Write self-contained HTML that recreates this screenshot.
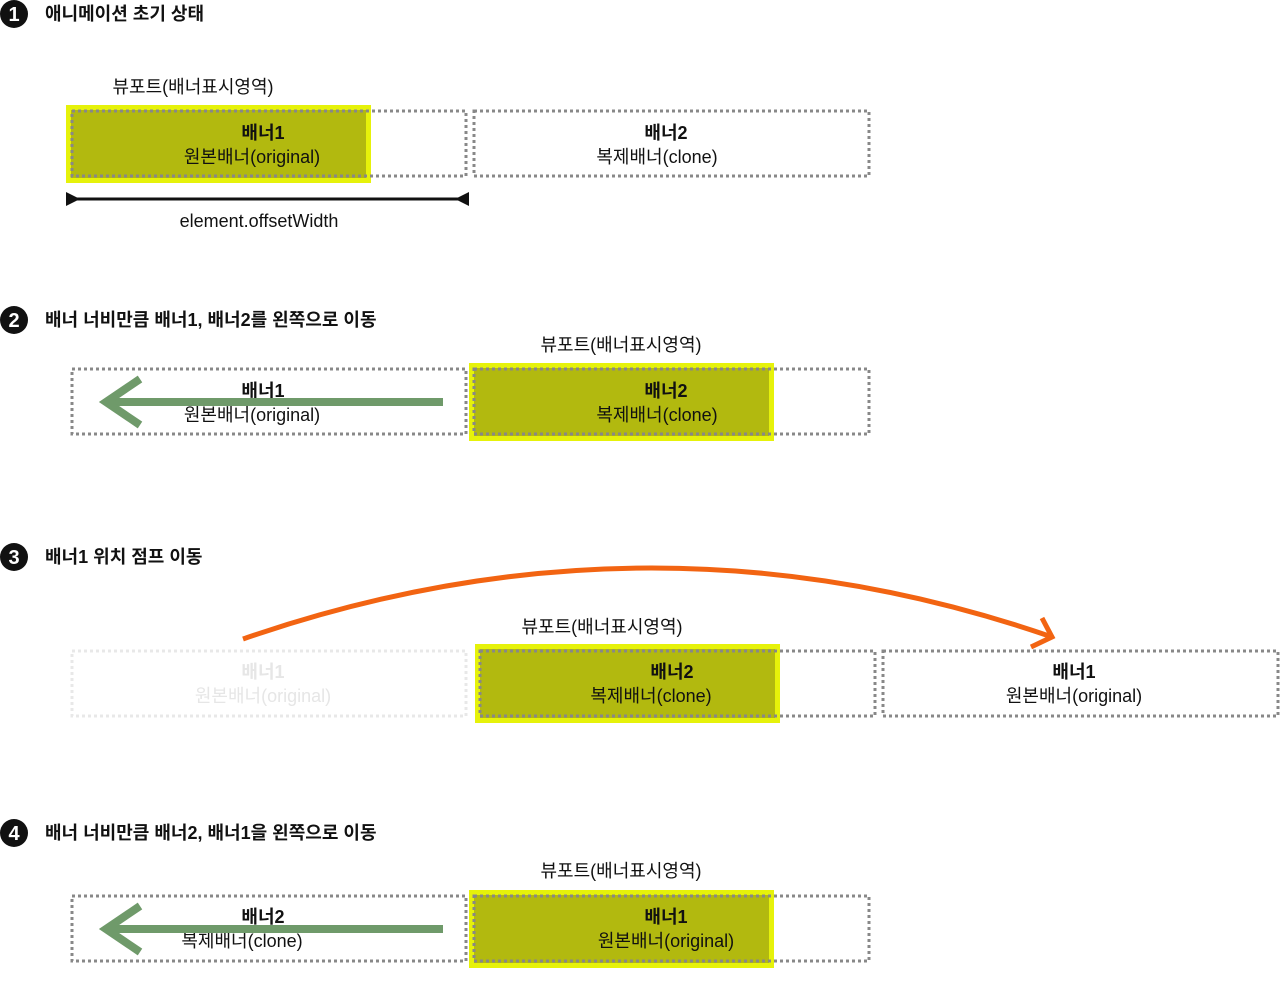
<!DOCTYPE html>
<html><head><meta charset="utf-8"><style>
html,body{margin:0;padding:0;background:#fff;}
svg text{font-family:"Liberation Sans","Noto Sans CJK KR",sans-serif;}
</style></head><body>
<svg width="1280" height="997" viewBox="0 0 1280 997" xmlns="http://www.w3.org/2000/svg">
<defs>
<style>
.d{fill:none;stroke:#888;stroke-width:3;stroke-dasharray:3 3}
.df{fill:none;stroke:#e8e8e8;stroke-width:3;stroke-dasharray:3 3}
.y{fill:#b2b90f;stroke:#e6f20a;stroke-width:5}
.h{font-size:18px;font-weight:bold;fill:#111}
.b{font-size:18px;font-weight:bold;fill:#111;text-anchor:middle}
.t{font-size:18px;fill:#111;text-anchor:middle}
.n{font-size:20px;font-weight:bold;fill:#fff;text-anchor:middle}
</style>
</defs>
<circle cx="14" cy="14" r="14" fill="#111"/><text class="n" x="14" y="21">1</text>
<text class="h" x="45" y="20">애니메이션 초기 상태</text>
<circle cx="14" cy="320" r="14" fill="#111"/><text class="n" x="14" y="327">2</text>
<text class="h" x="45" y="326">배너 너비만큼 배너1, 배너2를 왼쪽으로 이동</text>
<circle cx="14" cy="557" r="14" fill="#111"/><text class="n" x="14" y="564">3</text>
<text class="h" x="45" y="563">배너1 위치 점프 이동</text>
<circle cx="14" cy="833" r="14" fill="#111"/><text class="n" x="14" y="840">4</text>
<text class="h" x="45" y="839">배너 너비만큼 배너2, 배너1을 왼쪽으로 이동</text>

<text class="t" x="193" y="93">뷰포트(배너표시영역)</text>
<rect class="y" x="68.5" y="107.5" width="300" height="73"/>
<rect class="d" x="72" y="111" width="394" height="65"/>
<rect class="d" x="474" y="111" width="395" height="65"/>
<text class="b" x="263" y="139">배너1</text>
<text class="t" x="252" y="163">원본배너(original)</text>
<text class="b" x="666" y="139">배너2</text>
<text class="t" x="657" y="163">복제배너(clone)</text>
<line x1="70" y1="199" x2="464" y2="199" stroke="#111" stroke-width="3"/>
<polygon points="66,192 80,199 66,206" fill="#111"/>
<polygon points="469,192 455,199 469,206" fill="#111"/>
<text class="t" x="259" y="227">element.offsetWidth</text>

<text class="t" x="621" y="351">뷰포트(배너표시영역)</text>
<rect class="d" x="72" y="369" width="394" height="65"/>
<rect class="y" x="471.5" y="365.5" width="300" height="73"/>
<rect class="d" x="474" y="369" width="395" height="65"/>
<text class="b" x="263" y="397">배너1</text>
<text class="t" x="252" y="421">원본배너(original)</text>
<text class="b" x="666" y="397">배너2</text>
<text class="t" x="657" y="421">복제배너(clone)</text>
<line x1="443" y1="402" x2="106" y2="402" stroke="#6f9a6a" stroke-width="8"/>
<polyline points="140,379 106,402 140,425" fill="none" stroke="#6f9a6a" stroke-width="8"/>

<text class="t" x="602" y="633">뷰포트(배너표시영역)</text>
<rect class="df" x="72" y="651" width="394" height="65"/>
<text class="b" x="263" y="678" style="fill:#e6e6e6">배너1</text>
<text class="t" x="263" y="702" style="fill:#e6e6e6">원본배너(original)</text>
<rect class="y" x="477.5" y="646.5" width="300" height="74"/>
<rect class="d" x="480" y="651" width="395" height="65"/>
<rect class="d" x="883" y="651" width="395" height="65"/>
<text class="b" x="672" y="678">배너2</text>
<text class="t" x="651" y="702">복제배너(clone)</text>
<text class="b" x="1074" y="678">배너1</text>
<text class="t" x="1074" y="702">원본배너(original)</text>
<path d="M243,639 Q650,498 1052,637" fill="none" stroke="#f26412" stroke-width="5"/>
<polyline points="1042,618 1052,637 1031,647" fill="none" stroke="#f26412" stroke-width="5"/>

<text class="t" x="621" y="877">뷰포트(배너표시영역)</text>
<rect class="d" x="72" y="896" width="394" height="65"/>
<rect class="y" x="471.5" y="892.5" width="300" height="73"/>
<rect class="d" x="474" y="896" width="395" height="65"/>
<text class="b" x="263" y="923">배너2</text>
<text class="t" x="242" y="947">복제배너(clone)</text>
<text class="b" x="666" y="923">배너1</text>
<text class="t" x="666" y="947">원본배너(original)</text>
<line x1="443" y1="929" x2="106" y2="929" stroke="#6f9a6a" stroke-width="8"/>
<polyline points="140,906 106,929 140,952" fill="none" stroke="#6f9a6a" stroke-width="8"/>
</svg>
</body></html>
